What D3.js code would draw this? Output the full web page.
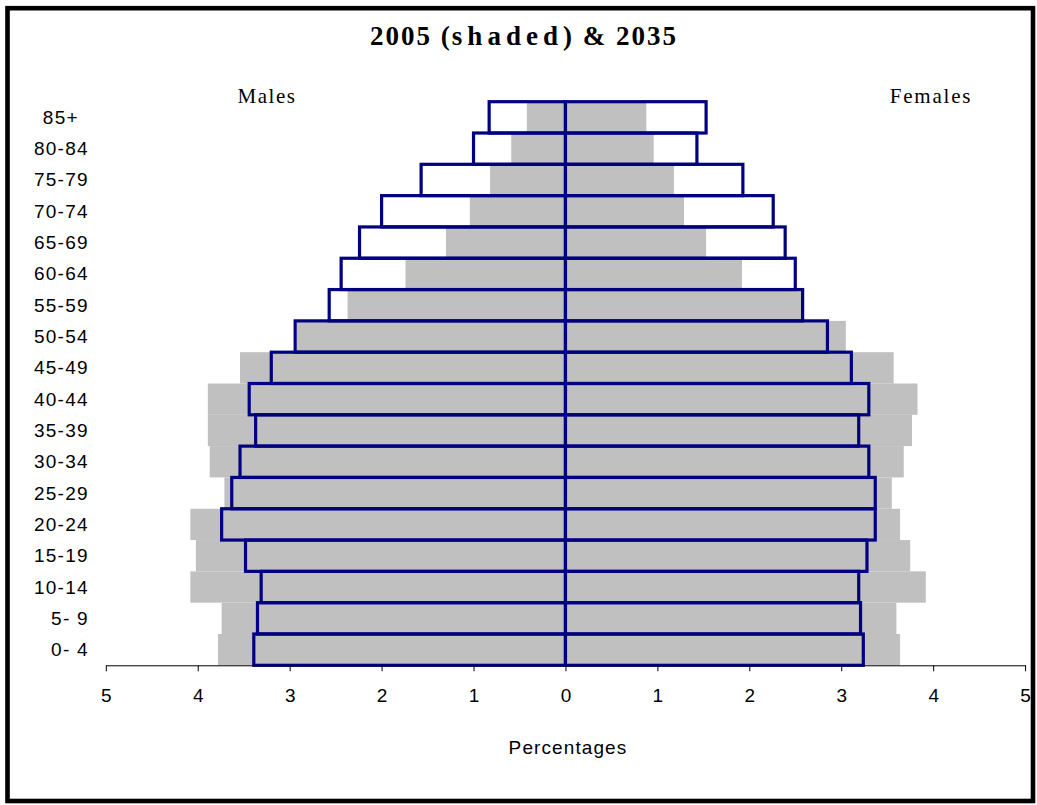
<!DOCTYPE html>
<html>
<head>
<meta charset="utf-8">
<script src="https://cdn.jsdelivr.net/npm/d3@7"></script>
<style>
  html, body { margin: 0; padding: 0; background: #fff; }
  svg { display: block; }
</style>
</head>
<body>
<svg id="chart" width="1037" height="805"></svg>
<script>
// Age groups, youngest first
const ageGroups = ["0- 4", "5- 9", "10-14", "15-19", "20-24", "25-29", "30-34", "35-39",
  "40-44", "45-49", "50-54", "55-59", "60-64", "65-69", "70-74", "75-79", "80-84", "85+"];

// Share of population (%) by age group
const males2005   = [3.78, 3.74, 4.08, 4.02, 4.08, 3.71, 3.87, 3.89, 3.89, 3.54, 2.92, 2.37, 1.74, 1.30, 1.04, 0.82, 0.59, 0.42];
const females2005 = [3.64, 3.60, 3.92, 3.75, 3.64, 3.55, 3.68, 3.77, 3.83, 3.57, 3.05, 2.57, 1.92, 1.53, 1.29, 1.18, 0.96, 0.88];
const males2035   = [3.39, 3.35, 3.31, 3.48, 3.74, 3.63, 3.54, 3.37, 3.44, 3.20, 2.94, 2.57, 2.44, 2.24, 2.00, 1.57, 1.00, 0.83];
const females2035 = [3.24, 3.21, 3.19, 3.28, 3.37, 3.37, 3.30, 3.19, 3.30, 3.11, 2.85, 2.58, 2.50, 2.39, 2.26, 1.93, 1.43, 1.53];

const xTicks = [-5, -4, -3, -2, -1, 0, 1, 2, 3, 4, 5];

const sans = "'Liberation Sans', Arial, sans-serif";
const serif = "'Liberation Serif', 'Times New Roman', serif";

const svg = d3.select("#chart");

// outer frame
svg.append("rect")
  .attr("x", 7.5).attr("y", 8.2).attr("width", 1025.5).attr("height", 792.8)
  .attr("fill", "none").attr("stroke", "#000").attr("stroke-width", 4.6);

const x = d3.scaleLinear().domain([-5, 5]).range([105.8, 1025.1]);
const y = d3.scaleBand().domain(ageGroups.slice().reverse()).range([101.7, 665.3]).padding(0);

const rows = ageGroups.map((g, i) => ({
  group: g,
  m05: males2005[i], f05: females2005[i],
  m35: males2035[i], f35: females2035[i]
}));

// 2005 shaded bars
const shade = svg.append("g").attr("fill", "#C0C0C0");
shade.selectAll("rect.m").data(rows).join("rect").attr("class", "m")
  .attr("x", d => x(-d.m05)).attr("width", d => x(0) - x(-d.m05))
  .attr("y", d => y(d.group)).attr("height", y.bandwidth());
shade.selectAll("rect.f").data(rows).join("rect").attr("class", "f")
  .attr("x", x(0)).attr("width", d => x(d.f05) - x(0))
  .attr("y", d => y(d.group)).attr("height", y.bandwidth());

// 2035 outlined bars
const outline = svg.append("g").attr("fill", "none").attr("stroke", "#000080").attr("stroke-width", 3.2);
outline.selectAll("rect.m").data(rows).join("rect").attr("class", "m")
  .attr("x", d => x(-d.m35)).attr("width", d => x(0) - x(-d.m35))
  .attr("y", d => y(d.group)).attr("height", y.bandwidth());
outline.selectAll("rect.f").data(rows).join("rect").attr("class", "f")
  .attr("x", x(0)).attr("width", d => x(d.f35) - x(0))
  .attr("y", d => y(d.group)).attr("height", y.bandwidth());

// x axis
const xAxis = d3.axisBottom(x).tickValues(xTicks).tickFormat(d => Math.abs(d))
  .tickSizeOuter(0).tickSizeInner(6).tickPadding(17);
const gx = svg.append("g").attr("transform", `translate(0,${y.range()[1]})`).call(xAxis);
gx.select(".domain").attr("stroke", "#000").attr("stroke-width", 1);
gx.selectAll(".tick line").attr("stroke", "#000");
gx.selectAll(".tick text")
  .attr("font-family", sans).attr("font-size", 19).attr("fill", "#000");

// age group labels
svg.append("g").selectAll("text").data(ageGroups).join("text")
  .attr("x", 89).attr("y", d => y(d) + y.bandwidth() / 2 + 6.5)
  .attr("text-anchor", "end")
  .attr("font-family", sans)
  .attr("font-size", 19).attr("letter-spacing", 1.3)
  .attr("dx", d => d === "85+" ? -10 : 0)
  .text(d => d);

// chart title
const title = svg.append("text").attr("x", 524).attr("y", 45).attr("text-anchor", "middle")
  .attr("font-family", serif).attr("font-size", 27).attr("font-weight", "bold");
title.append("tspan").attr("letter-spacing", 2).text("2005 (");
title.append("tspan").attr("letter-spacing", 5).text("shaded");
title.append("tspan").attr("letter-spacing", 2).text(") & 2035");

svg.append("text").attr("x", 267).attr("y", 103).attr("text-anchor", "middle")
  .attr("font-family", serif).attr("font-size", 21).attr("letter-spacing", 1.5)
  .text("Males");
svg.append("text").attr("x", 931).attr("y", 103).attr("text-anchor", "middle")
  .attr("font-family", serif).attr("font-size", 21).attr("letter-spacing", 1.8)
  .text("Females");

svg.append("text").attr("x", 568).attr("y", 754).attr("text-anchor", "middle")
  .attr("font-family", sans).attr("font-size", 19).attr("letter-spacing", 1.1)
  .text("Percentages");
</script>
</body>
</html>
